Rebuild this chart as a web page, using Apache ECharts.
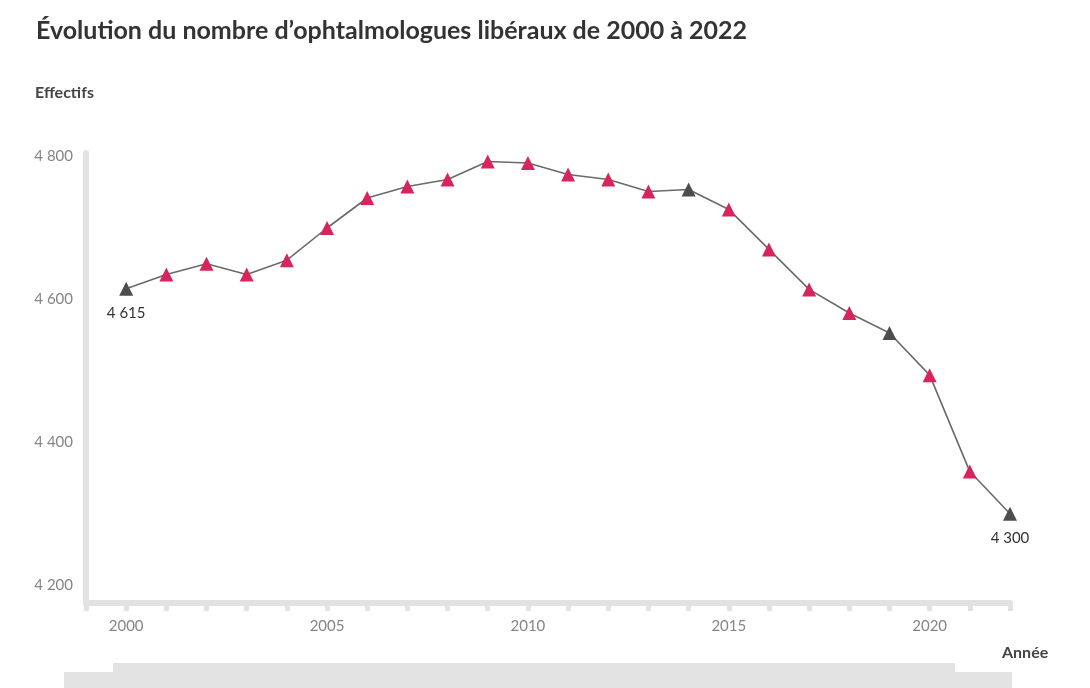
<!DOCTYPE html>
<html>
<head>
<meta charset="utf-8">
<script src="https://cdn.jsdelivr.net/npm/echarts@6/dist/echarts.min.js"></script>
<style>
  html, body { margin: 0; padding: 0; background: #fff; }
  #chart { width: 1090px; height: 688px; }
</style>
</head>
<body>
<div id="chart"></div>
<script>
// données
var years = [2000, 2001, 2002, 2003, 2004, 2005, 2006, 2007, 2008, 2009, 2010, 2011,
  2012, 2013, 2014, 2015, 2016, 2017, 2018, 2019, 2020, 2021, 2022];
var effectifs = [4615, 4635, 4650, 4635, 4655, 4700, 4742, 4758, 4768, 4793, 4791, 4775,
  4768, 4751, 4754, 4726, 4670, 4614, 4581, 4553, 4494, 4359, 4300];
// années dont le marqueur est gris foncé
var darkYears = [2000, 2014, 2019, 2022];
// années annotées
var labelYears = [2000, 2022];
var yTicks = [4200, 4400, 4600, 4800];
var xTicks = [2000, 2005, 2010, 2015, 2020];

var FONT = 'Lato, "Noto Sans", sans-serif';

function fmt(v) {
  var s = String(v);
  return s.slice(0, s.length - 3) + ' ' + s.slice(-3);
}

var points = years.map(function(y, i) {
  var dark = darkYears.indexOf(y) >= 0;
  var p = {
    value: [y, effectifs[i]],
    itemStyle: { color: dark ? '#4d4d4d' : '#d8245c' }
  };
  if (labelYears.indexOf(y) >= 0) {
    p.label = {
      show: true,
      position: 'bottom',
      distance: 10,
      formatter: function(params) { return fmt(params.value[1]); },
      color: '#333',
      fontSize: 15,
      fontFamily: FONT
    };
  }
  return p;
});

var myChart = echarts.init(document.getElementById('chart'));
var option = {
  backgroundColor: '#fff',
  animation: false,
  title: {
    text: 'Évolution du nombre d\u2019ophtalmologues libéraux de 2000 à 2022',
    left: 31,
    top: 13,
    textStyle: {
      color: '#333',
      fontWeight: 'bold',
      fontFamily: FONT,
      fontSize: 25
    }
  },
  grid: {
    left: 86,
    right: 80,
    top: 153,
    bottom: 85
  },
  xAxis: {
    type: 'value',
    min: 1999,
    max: 2022,
    interval: 1,
    splitLine: { show: false },
    axisLine: {
      lineStyle: { color: '#e2e2e2', width: 6 }
    },
    axisTick: {
      show: true,
      length: 8,
      lineStyle: { color: '#e2e2e2', width: 5 }
    },
    axisLabel: {
      margin: 16,
      color: '#858585',
      fontSize: 15,
      fontFamily: FONT,
      formatter: function(v) {
        return xTicks.indexOf(v) >= 0 ? String(v) : '';
      }
    }
  },
  yAxis: {
    type: 'value',
    min: 4175,
    max: 4805,
    interval: 5,
    splitLine: { show: false },
    axisLine: {
      show: true,
      lineStyle: { color: '#e2e2e2', width: 6 }
    },
    axisTick: { show: false },
    axisLabel: {
      margin: 13,
      color: '#858585',
      fontSize: 15,
      fontFamily: FONT,
      formatter: function(v) {
        return yTicks.indexOf(v) >= 0 ? fmt(v) : '';
      }
    }
  },
  series: [{
    type: 'line',
    data: points,
    symbol: 'triangle',
    symbolSize: 14,
    lineStyle: { color: '#6a6a6a', width: 1.6 },
    z: 3
  }],
  graphic: [
    {
      type: 'text',
      left: 35,
      top: 85,
      style: {
        text: 'Effectifs',
        fill: '#444',
        font: 'bold 16px ' + FONT
      }
    },
    {
      type: 'text',
      left: 1002,
      top: 645,
      style: {
        text: 'Année',
        fill: '#444',
        font: 'bold 16px ' + FONT
      }
    },
    // bandeau gris en bas
    {
      type: 'rect',
      shape: { x: 113, y: 663, width: 842, height: 10 },
      style: { fill: '#e3e3e3' }
    },
    {
      type: 'rect',
      shape: { x: 64, y: 672, width: 948, height: 16 },
      style: { fill: '#e3e3e3' }
    }
  ]
};
myChart.setOption(option);
</script>
</body>
</html>
